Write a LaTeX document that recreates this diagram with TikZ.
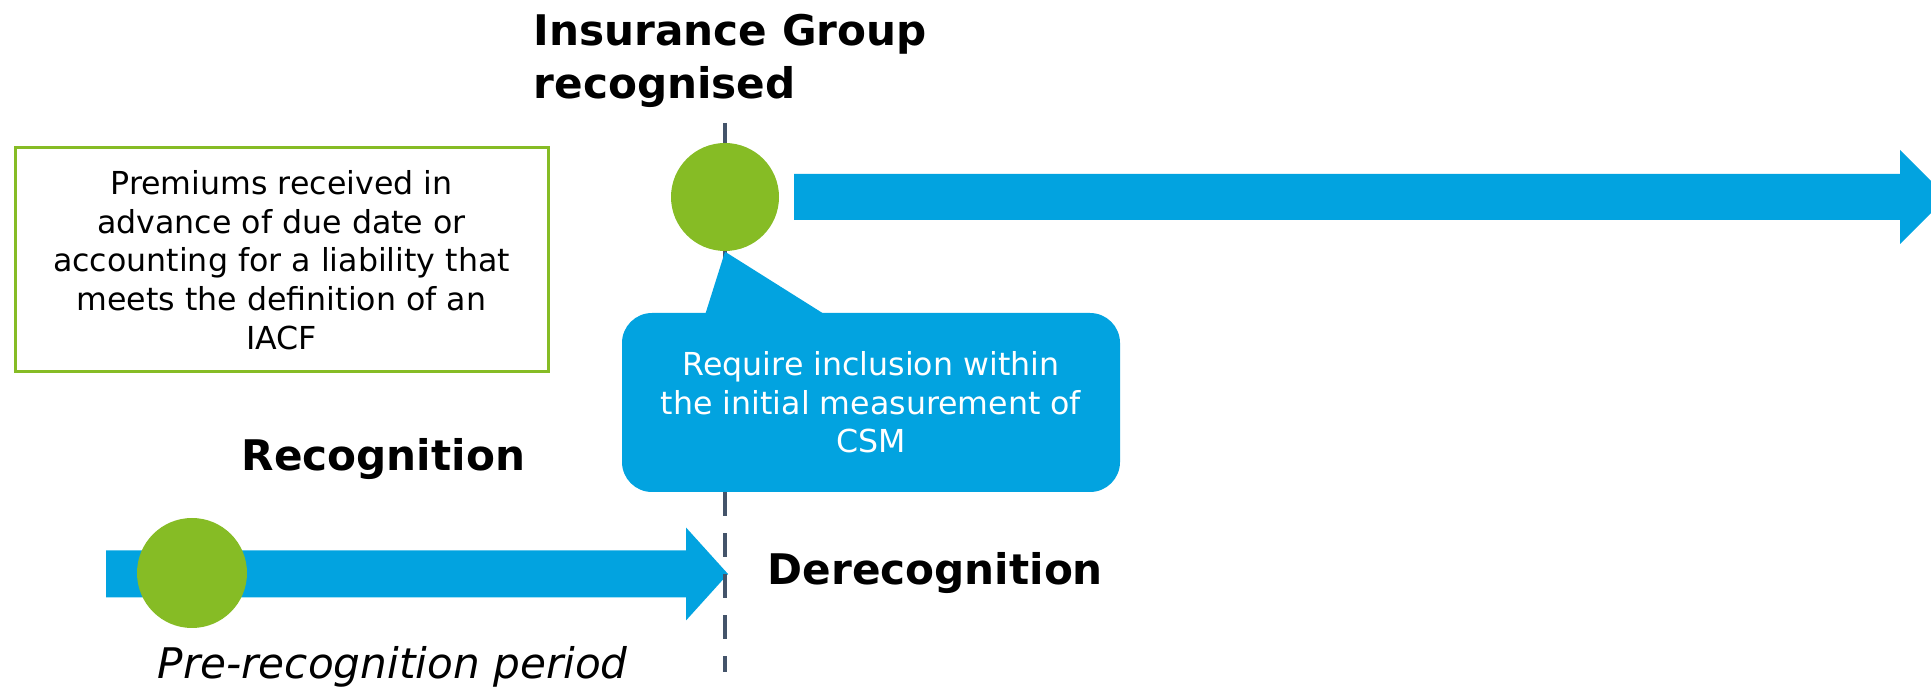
\documentclass[tikz,border=0pt]{standalone}
\usepackage{fontspec}
\setmainfont{DejaVu Sans}
\usepackage{xcolor}
\usepackage{tikz}
\usetikzlibrary{calc}
\usetikzlibrary{arrows.meta}
\usetikzlibrary{shapes}
\usetikzlibrary{positioning}
\definecolor{tlblue}{HTML}{02A3E0}
\definecolor{tlgreen}{HTML}{86BC25}
\definecolor{tlslate}{HTML}{44546A}
\tikzstyle{band} = [fill = tlblue, draw = none]
\tikzstyle{dot} = [circle, fill = tlgreen, draw = none, inner sep = 0]
\tikzstyle{cut} = [draw = tlslate, line width = 0.035cm, dash pattern = on 0.24cm off 0.17cm]
\tikzstyle{head} = [draw = none, inner sep = 0, font = \bfseries\fontsize{12}{15}\selectfont]
\tikzstyle{small} = [font = \fontsize{9}{11}\selectfont, align = center]

\begin{document}
\begin{tikzpicture}
\clip (0, 0) rectangle (19.31, 6.87);
% timelines
\fill [band] (7.94, 4.67) -- (19.00, 4.67) -- (19.00, 4.43) -- (19.47, 4.90) -- (19.00, 5.37) -- (19.00, 5.13) -- (7.94, 5.13) -- cycle;
\fill [band] (1.06, 0.895) -- (6.86, 0.895) -- (6.86, 0.665) -- (7.28, 1.13) -- (6.86, 1.595) -- (6.86, 1.365) -- (1.06, 1.365) -- cycle;
\coordinate (T) at (7.25, 5.64);
\coordinate (B) at (7.25, 0.15);
\draw [cut] (T) -- (B);
\node [dot, minimum size = 1.08cm] (G) at (7.25, 4.90) {};
\node [dot, minimum size = 1.10cm] (P) at (1.92, 1.14) {};
\node [rectangle, draw = tlgreen, line width = 0.03cm, minimum width = 5.33cm, minimum height = 2.24cm, small] (prem) at (2.815, 4.27) {Premiums received in\\advance of due date or\\accounting for a liability that\\meets the definition of an\\IACF};
\node [rectangle, rounded corners = 0.3cm, fill = tlblue, text = white, minimum width = 4.98cm, minimum height = 1.79cm, small] (csm) at (8.71, 2.845) {Require inclusion within\\the initial measurement of\\CSM};
\fill [tlblue] (G.south) -- ($(csm.north west) + (0.83, -0.05)$) -- ($(csm.north west) + (2.08, -0.05)$) -- cycle;
\node [head, anchor = north west, align = left] (grp) at (5.33, 6.73) {Insurance Group\\recognised};
\node [head, anchor = base west] (rec) at (2.41, 2.16) {Recognition};
\node [head, anchor = base west] (derec) at (7.67, 1.02) {Derecognition};
\node [draw = none, inner sep = 0, anchor = base west, font = \itshape\fontsize{12}{15}\selectfont] (pre) at (1.57, 0.09) {Pre-recognition period};
\end{tikzpicture}
\end{document}
